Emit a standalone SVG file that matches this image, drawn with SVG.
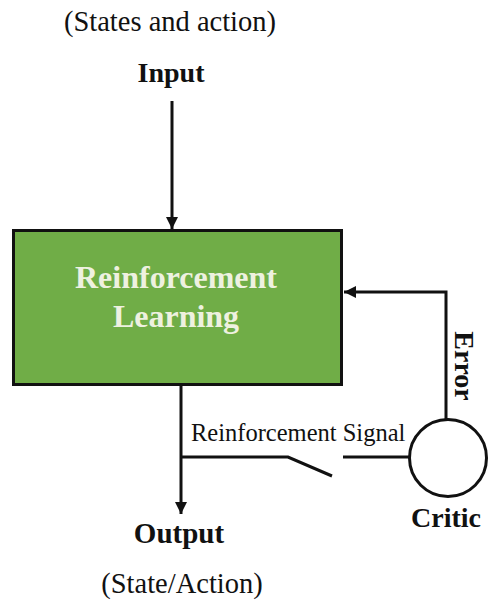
<svg xmlns="http://www.w3.org/2000/svg" width="492" height="604" viewBox="0 0 492 604">
  <style>
    .lbl { font-family: "Liberation Serif", "Times New Roman", serif; fill: #111; }
    .bold { font-weight: bold; }
    .inner { fill: #eef1e0; }
    .wire { fill: none; stroke: #111; stroke-width: 3; }
  </style>
  <defs>
    <marker id="arrow" viewBox="0 0 10 10" refX="10" refY="5" markerWidth="4.2" markerHeight="4" markerUnits="strokeWidth" orient="auto">
      <path d="M0,0 L10,5 L0,10 Z" fill="#111"/>
    </marker>
  </defs>
  <rect width="492" height="604" fill="#fff"/>

  <!-- input labels -->
  <g id="input">
    <text class="lbl" x="170" y="31" font-size="28.5" text-anchor="middle">(States and action)</text>
    <text class="lbl bold" x="171" y="82" font-size="28" text-anchor="middle">Input</text>
  </g>

  <!-- learner block -->
  <g id="rl">
    <rect x="13.5" y="230.5" width="328" height="154" fill="#70ad47" stroke="#111" stroke-width="3"/>
    <text class="lbl bold inner" x="176" y="288" font-size="32" text-anchor="middle">Reinforcement</text>
    <text class="lbl bold inner" x="176" y="327" font-size="32" text-anchor="middle">Learning</text>
  </g>

  <!-- critic -->
  <g id="critic">
    <circle cx="448" cy="458" r="38.5" fill="#fff" stroke="#111" stroke-width="3"/>
    <text class="lbl bold" x="446" y="527" font-size="28" text-anchor="middle">Critic</text>
  </g>

  <!-- output labels -->
  <g id="output">
    <text class="lbl bold" x="179" y="543" font-size="29" text-anchor="middle">Output</text>
    <text class="lbl" x="182" y="593" font-size="28.5" text-anchor="middle">(State/Action)</text>
  </g>

  <!-- connectors -->
  <g id="connectors">
    <line class="wire" x1="172" y1="101" x2="172" y2="229" marker-end="url(#arrow)"/>
    <polyline class="wire" points="446,419 446,292 344,292" marker-end="url(#arrow)"/>
    <line class="wire" x1="181" y1="385" x2="181" y2="514" marker-end="url(#arrow)"/>
    <!-- open switch on the reinforcement signal path -->
    <polyline class="wire" points="181,457 288,457 332,476"/>
    <line class="wire" x1="343" y1="457" x2="410" y2="457"/>
    <text class="lbl" x="191" y="441" font-size="24.5">Reinforcement Signal</text>
    <text class="lbl bold" font-size="28" text-anchor="middle" transform="translate(455,366) rotate(90)">Error</text>
  </g>
</svg>
